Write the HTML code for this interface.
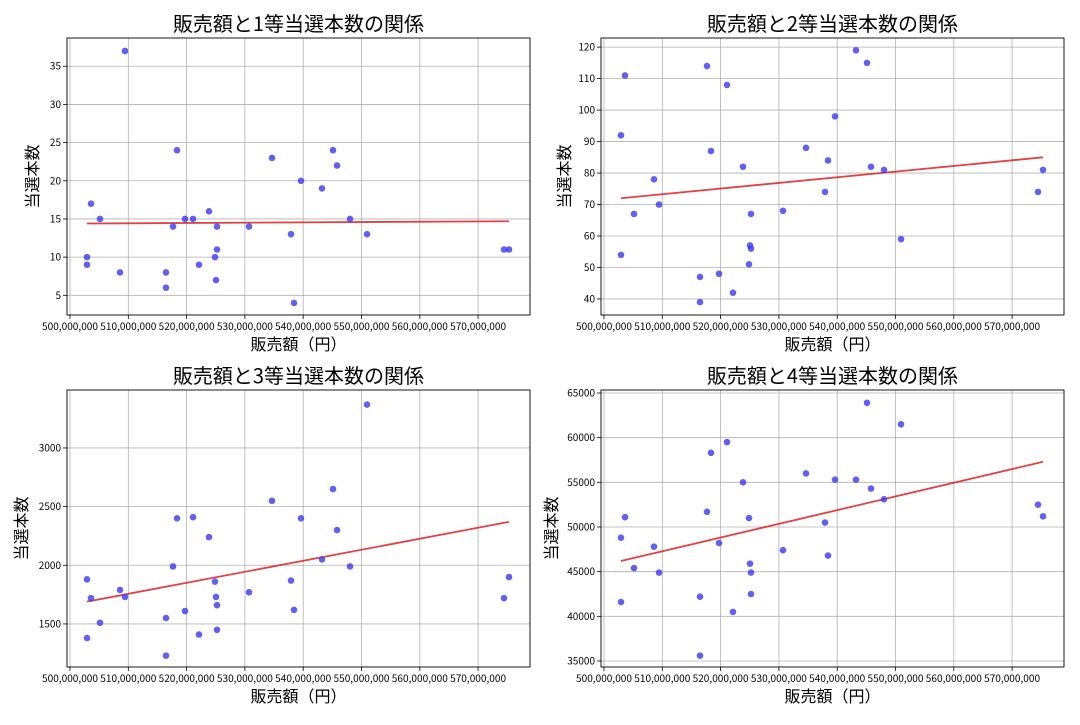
<!DOCTYPE html>
<html><head><meta charset="utf-8"><style>
body{margin:0;background:#fff}
svg text{font-family:"Noto Sans CJK JP","Liberation Sans",sans-serif;fill:#000}
</style></head><body>
<svg id="s" width="1080" height="720" xmlns="http://www.w3.org/2000/svg"></svg>
<script>
const S=document.getElementById('s');let h='';
const X=[87,87,91,100,120,125,166,166,173,177,185,193,199,209,215,216,217,217,249,272,291,294,301,322,333,337,350,367,504,509];
const P=[
{ox:0,oy:0,t:'販売額と1等当選本数の関係',y0:2.42,y1:38.7,ticks:[5,10,15,20,25,30,35],yl:33,
 d:[10,9,17,15,8,37,8,6,14,24,15,15,9,16,10,7,14,11,14,23,13,4,20,19,24,22,15,13,11,11],tr:[14.4,14.7]},
{ox:534,oy:0,t:'販売額と2等当選本数の関係',y0:34.9,y1:122.9,ticks:[40,50,60,70,80,90,100,110,120],yl:565,
 d:[92,54,111,67,78,70,47,39,114,87,48,108,42,82,51,57,56,67,68,88,74,84,98,119,115,82,81,59,74,81],tr:[72,85]},
{ox:0,oy:352,t:'販売額と3等当選本数の関係',y0:1133,y1:3494,ticks:[1500,2000,2500,3000],yl:22,
 d:[1880,1380,1720,1510,1790,1730,1550,1230,1990,2400,1610,2410,1410,2240,1860,1730,1660,1450,1770,2550,1870,1620,2400,2050,2650,2300,1990,3370,1720,1900],tr:[1690,2370]},
{ox:534,oy:352,t:'販売額と4等当選本数の関係',y0:34328,y1:65336,ticks:[35000,40000,45000,50000,55000,60000,65000],yl:552,
 d:[48800,41600,51100,45400,47800,44900,42200,35600,51700,58300,48200,59500,40500,55000,51000,45900,44900,42500,47400,56000,50500,46800,55300,55300,63900,54300,53100,61500,52500,51200],tr:[46200,57300]}
];
for(const p of P){
 const L=67+p.ox,R=530+p.ox,T=38+p.oy,B=315+p.oy;
 const yv=v=>B-(v-p.y0)/(p.y1-p.y0)*(B-T);
 for(let i=0;i<8;i++){const x=70+p.ox+i*58.3;
  h+=`<line x1="${x}" y1="${T}" x2="${x}" y2="${B}" stroke="#b0b0b0" stroke-width="0.8"/>`;
  h+=`<line x1="${x}" y1="${B}" x2="${x}" y2="${B+4}" stroke="#000" stroke-width="0.8"/>`;
  h+=`<text x="${x}" y="${B+15}" font-size="10" text-anchor="middle" textLength="56" lengthAdjust="spacingAndGlyphs">${(500+i*10)},000,000</text>`;}
 for(const t of p.ticks){const y=yv(t);
  h+=`<line x1="${L}" y1="${y}" x2="${R}" y2="${y}" stroke="#b0b0b0" stroke-width="0.8"/>`;
  h+=`<line x1="${L-4}" y1="${y}" x2="${L}" y2="${y}" stroke="#000" stroke-width="0.8"/>`;
  h+=`<text x="${L-6}" y="${y+3.5}" font-size="10" text-anchor="end">${t}</text>`;}
 h+=`<line x1="${X[0]+p.ox}" y1="${yv(p.tr[0])}" x2="${X[29]+p.ox}" y2="${yv(p.tr[1])}" stroke="#e02020" stroke-opacity="0.85" stroke-width="1.8"/>`;
 p.d.forEach((v,i)=>{h+=`<circle cx="${X[i]+p.ox}" cy="${yv(v)}" r="3.3" fill="#3a3aee" fill-opacity="0.8"/>`;});
 h+=`<rect x="${L}" y="${T}" width="${R-L}" height="${B-T}" fill="none" stroke="#000" stroke-width="0.9"/>`;
 h+=`<text x="${(L+R)/2}" y="${T-7}" font-size="20" text-anchor="middle">${p.t}</text>`;
 h+=`<text x="${(L+R)/2}" y="${B+35}" font-size="16" text-anchor="middle">販売額（円）</text>`;
 const cy=(T+B)/2;
 h+=`<text x="${p.yl}" y="${cy}" font-size="16" text-anchor="middle" transform="rotate(-90 ${p.yl} ${cy})" dy="5">当選本数</text>`;
}
S.innerHTML=h;
</script>
</body></html>
